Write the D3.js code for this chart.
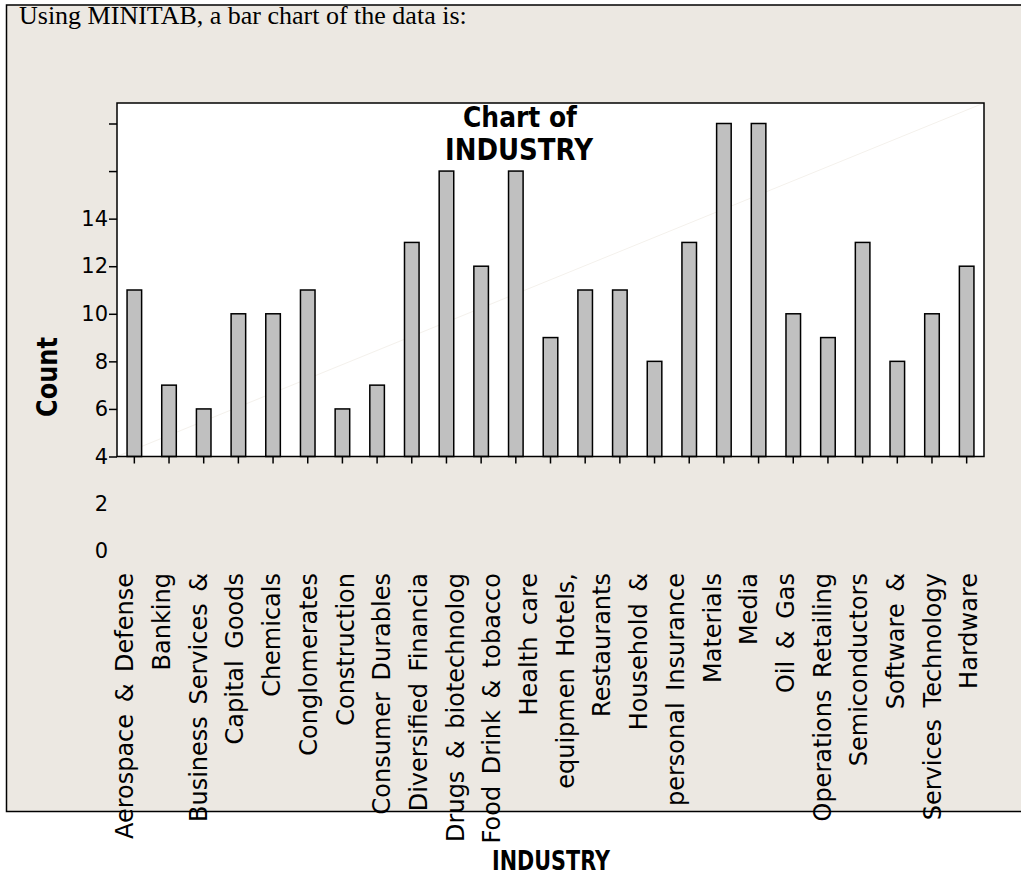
<!DOCTYPE html>
<html lang="en">
	<head>
		<meta charset="utf-8">
		<title>Chart of INDUSTRY</title>
		<script type="text/javascript" src="https://cdn.jsdelivr.net/npm/d3@7"></script>
		<style type="text/css">
			body { margin: 0; background: #fff; }
			svg { display: block; }
		</style>
	</head>
	<body>
		<script type="text/javascript">
			var w = 1021;
			var h = 875;

			// counts (25 bars)
			var counts = [11, 7, 6, 10, 10, 11, 6, 7, 13, 16, 12, 16, 9,
			              11, 11, 8, 13, 18, 18, 10, 9, 13, 8, 10, 12];
			// the axis text as it appears (24 labels, wrapped names)
			var labels = ["Aerospace & Defense", "Banking", "Business Services &",
			              "Capital Goods", "Chemicals", "Conglomerates", "Construction",
			              "Consumer Durables", "Diversified Financia", "Drugs & biotechnolog",
			              "Food Drink & tobacco", "Health care", "equipmen Hotels,",
			              "Restaurants", "Household &", "personal Insurance", "Materials",
			              "Media", "Oil & Gas", "Operations Retailing", "Semiconductors",
			              "Software &", "Services Technology", "Hardware"];
			var yTicks = [4, 6, 8, 10, 12, 14, 16, 18];
			var yLabelled = [4, 6, 8, 10, 12, 14];
			var yStray = [2, 0];

			var plot = {left: 117, right: 984, top: 103, bottom: 456.5};
			var font = "'DejaVu Sans', Tahoma, sans-serif";

			var svg = d3.select("body")
					.append("svg")
					.attr("width", w)
					.attr("height", h);

			// page frame
			svg.append("rect")
				.attr("x", 6).attr("y", 5)
				.attr("width", w - 6).attr("height", 806)
				.attr("fill", "#ece8e2");
			svg.append("path")
				.attr("d", "M" + w + ",5H6.5V811.5H" + w)
				.attr("fill", "none")
				.attr("stroke", "#000")
				.attr("stroke-width", 1.5);

			svg.append("text")
				.attr("x", 19).attr("y", 24)
				.attr("font-family", "'Liberation Serif', 'Times New Roman', serif")
				.attr("font-size", "26px")
				.text("Using MINITAB, a bar chart of the data is:");

			var x = d3.scaleBand()
					.domain(d3.range(counts.length))
					.range([plot.left, plot.right])
					.paddingInner(0.58)
					.paddingOuter(0.29);

			var y = d3.scaleLinear()
					.domain([4, 18])
					.range([plot.bottom, 123.5]);

			var xl = d3.scalePoint()
					.domain(labels)
					.range([125, 969]);

			// plot area
			svg.append("rect")
				.attr("x", plot.left).attr("y", plot.top)
				.attr("width", plot.right - plot.left)
				.attr("height", plot.bottom - plot.top)
				.attr("fill", "#fff");

			svg.append("line")
				.attr("x1", plot.left).attr("y1", plot.bottom)
				.attr("x2", plot.right).attr("y2", plot.top)
				.attr("stroke", "#f4f1ec")
				.attr("stroke-width", 1);

			svg.selectAll("rect.bar")
				.data(counts)
				.enter()
				.append("rect")
				.attr("class", "bar")
				.attr("x", function(d, i) { return x(i); })
				.attr("y", function(d) { return y(d); })
				.attr("width", x.bandwidth())
				.attr("height", function(d) { return plot.bottom - y(d); })
				.attr("fill", "#c0c0c0")
				.attr("stroke", "#000")
				.attr("stroke-width", 1.5);

			svg.append("rect")
				.attr("x", plot.left).attr("y", plot.top)
				.attr("width", plot.right - plot.left)
				.attr("height", plot.bottom - plot.top)
				.attr("fill", "none")
				.attr("stroke", "#000")
				.attr("stroke-width", 1.5);

			// y axis
			var yAxis = d3.axisLeft(y)
					.tickValues(yTicks)
					.tickSize(8)
					.tickPadding(1)
					.tickFormat(function(d) { return yLabelled.indexOf(d) >= 0 ? d : ""; });
			var gy = svg.append("g")
					.attr("transform", "translate(" + plot.left + ",0)")
					.call(yAxis);
			gy.select(".domain").remove();
			gy.selectAll("line").attr("stroke-width", 1.5);
			gy.selectAll("text")
				.attr("font-family", font)
				.attr("font-size", "21px")
				.attr("fill", "#000");

			svg.selectAll("text.stray")
				.data(yStray)
				.enter()
				.append("text")
				.attr("class", "stray")
				.attr("x", plot.left - 9)
				.attr("y", function(d) { return y(d); })
				.attr("dy", "0.32em")
				.attr("text-anchor", "end")
				.attr("font-family", font)
				.attr("font-size", "21px")
				.text(function(d) { return d; });

			// x ticks
			var xAxis = d3.axisBottom(x)
					.tickSize(7)
					.tickFormat("");
			var gx = svg.append("g")
					.attr("transform", "translate(0," + plot.bottom + ")")
					.call(xAxis);
			gx.select(".domain").remove();
			gx.selectAll("line").attr("stroke-width", 1.5);

			svg.selectAll("text.cat")
				.data(labels)
				.enter()
				.append("text")
				.attr("class", "cat")
				.attr("transform", function(d) {
					return "translate(" + xl(d) + ",573) rotate(-90)";
				})
				.attr("dy", "0.35em")
				.attr("text-anchor", "end")
				.attr("font-family", font)
				.attr("font-size", "24px")
				.attr("word-spacing", "4px")
				.text(function(d) { return d; });

			// titles
			svg.append("text")
				.attr("x", 520).attr("y", 127)
				.attr("text-anchor", "middle")
				.attr("font-family", font)
				.attr("font-weight", "bold")
				.attr("font-size", "28px")
				.attr("textLength", 114)
				.attr("lengthAdjust", "spacingAndGlyphs")
				.text("Chart of");
			svg.append("text")
				.attr("x", 519).attr("y", 160)
				.attr("text-anchor", "middle")
				.attr("font-family", font)
				.attr("font-weight", "bold")
				.attr("font-size", "30px")
				.attr("textLength", 148)
				.attr("lengthAdjust", "spacingAndGlyphs")
				.text("INDUSTRY");

			svg.append("text")
				.attr("transform", "translate(57,377) rotate(-90)")
				.attr("text-anchor", "middle")
				.attr("font-family", font)
				.attr("font-weight", "bold")
				.attr("font-size", "29px")
				.attr("textLength", 80)
				.attr("lengthAdjust", "spacingAndGlyphs")
				.text("Count");

			svg.append("text")
				.attr("x", 551).attr("y", 870)
				.attr("text-anchor", "middle")
				.attr("font-family", font)
				.attr("font-weight", "bold")
				.attr("font-size", "26px")
				.attr("textLength", 118)
				.attr("lengthAdjust", "spacingAndGlyphs")
				.text("INDUSTRY");
		</script>
	</body>
</html>
